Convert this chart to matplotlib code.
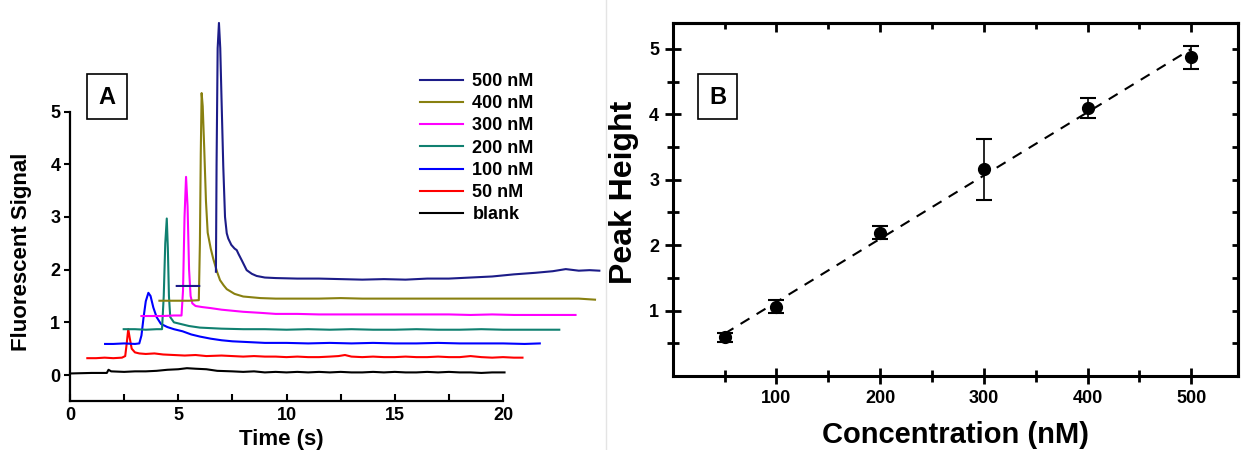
import numpy as np
import matplotlib.pyplot as plt
from matplotlib.ticker import MultipleLocator, FixedLocator
from matplotlib.patches import Rectangle
from matplotlib.lines import Line2D

plt.rcParams['font.family'] = ['Liberation Sans', 'DejaVu Sans']
plt.rcParams['font.weight'] = 'bold'

# ---- panel A: traces (time s, signal) ----
blank = np.array([(0.0, 0.03), (1.0, 0.04), (1.7, 0.04), (1.78, 0.10), (1.9, 0.07), (2.5, 0.06),
                  (3.0, 0.07), (3.5, 0.07), (4.0, 0.08), (4.5, 0.10), (5.0, 0.11), (5.4, 0.13),
                  (5.8, 0.12), (6.3, 0.11), (6.8, 0.08), (7.5, 0.07), (8.0, 0.06), (8.5, 0.07),
                  (9.0, 0.05), (9.5, 0.06), (10, 0.05), (10.5, 0.06), (11, 0.05), (11.5, 0.06),
                  (12, 0.05), (12.5, 0.06), (13, 0.05), (13.5, 0.05), (14, 0.06), (14.5, 0.05),
                  (15, 0.06), (15.5, 0.05), (16, 0.05), (16.5, 0.06), (17, 0.05), (17.5, 0.06),
                  (18, 0.05), (18.5, 0.05), (19, 0.04), (19.5, 0.05), (20.07, 0.05)])
nm50 = np.array([(0.80, 0.32), (1.2, 0.32), (1.6, 0.33), (2.0, 0.32), (2.4, 0.33), (2.55, 0.36),
                 (2.62, 0.6), (2.69, 0.87), (2.76, 0.7), (2.85, 0.5), (3.0, 0.43), (3.2, 0.41),
                 (3.5, 0.40), (3.9, 0.41), (4.3, 0.39), (4.8, 0.38), (5.3, 0.37), (5.8, 0.38),
                 (6.3, 0.36), (7, 0.37), (7.5, 0.36), (8, 0.35), (8.5, 0.36), (9, 0.35),
                 (9.5, 0.35), (10, 0.34), (10.5, 0.35), (11, 0.34), (11.5, 0.34), (12, 0.35),
                 (12.4, 0.36), (12.7, 0.38), (13.0, 0.35), (13.5, 0.34), (14, 0.35), (14.5, 0.34),
                 (15, 0.34), (15.5, 0.35), (16, 0.34), (16.5, 0.34), (17, 0.35), (17.5, 0.34),
                 (18, 0.34), (18.5, 0.36), (19, 0.34), (19.5, 0.33), (20, 0.34), (20.5, 0.33),
                 (20.9, 0.33)])
nm100 = np.array([(1.62, 0.59), (2.0, 0.59), (2.5, 0.60), (3.0, 0.59), (3.2, 0.60), (3.3, 0.75),
                  (3.4, 1.1), (3.5, 1.4), (3.62, 1.56), (3.72, 1.5), (3.85, 1.28), (4.0, 1.1),
                  (4.2, 0.97), (4.5, 0.91), (4.8, 0.87), (5.2, 0.83), (5.6, 0.77), (6.0, 0.73),
                  (6.5, 0.69), (7.0, 0.66), (7.5, 0.64), (8.0, 0.63), (8.5, 0.62), (9, 0.61),
                  (10, 0.61), (11, 0.60), (12, 0.61), (13, 0.60), (14, 0.61), (15, 0.60),
                  (16, 0.60), (17, 0.61), (18, 0.60), (19, 0.60), (20, 0.60), (21, 0.59),
                  (21.7, 0.60)])
nm200 = np.array([(2.48, 0.87), (3.0, 0.87), (3.5, 0.86), (4.0, 0.87), (4.25, 0.87), (4.33, 1.5),
                  (4.4, 2.5), (4.47, 2.97), (4.52, 2.4), (4.57, 1.5), (4.63, 1.1), (4.8, 1.0),
                  (5.1, 0.97), (5.5, 0.93), (6.0, 0.90), (6.5, 0.89), (7, 0.88), (8, 0.87),
                  (9, 0.87), (10, 0.86), (11, 0.87), (12, 0.86), (13, 0.87), (14, 0.86),
                  (15, 0.86), (16, 0.87), (17, 0.86), (18, 0.86), (19, 0.87), (20, 0.86),
                  (21, 0.86), (22, 0.86), (22.6, 0.86)])
nm300 = np.array([(3.30, 1.12), (3.8, 1.12), (4.3, 1.12), (4.8, 1.13), (5.15, 1.13), (5.22, 1.6),
                  (5.29, 3.0), (5.36, 3.76), (5.43, 3.2), (5.5, 2.0), (5.57, 1.5), (5.65, 1.36),
                  (5.8, 1.31), (6.1, 1.29), (6.5, 1.27), (7.0, 1.24), (7.5, 1.22), (8, 1.2),
                  (8.8, 1.18), (9.5, 1.16), (10.5, 1.16), (11.5, 1.15), (12.5, 1.15), (13.5, 1.15),
                  (14.5, 1.15), (15.5, 1.15), (16.5, 1.15), (17.5, 1.15), (18.5, 1.14), (19.5, 1.15),
                  (20.5, 1.14), (21.5, 1.14), (22.5, 1.14), (23.35, 1.14)])
nm400 = np.array([(4.13, 1.41), (4.6, 1.41), (5.0, 1.41), (5.5, 1.41), (5.95, 1.42), (6.0, 2.5),
                  (6.04, 4.2), (6.08, 5.35), (6.13, 5.1), (6.2, 4.3), (6.28, 3.3), (6.36, 2.7),
                  (6.5, 2.4), (6.62, 2.2), (6.8, 1.95), (6.93, 1.8), (7.1, 1.7), (7.24, 1.63),
                  (7.6, 1.54), (8.0, 1.49), (8.8, 1.46), (9.5, 1.45), (10.5, 1.45), (11.5, 1.45),
                  (12.5, 1.46), (13.5, 1.45), (14.5, 1.45), (15.5, 1.45), (16.5, 1.45), (17.5, 1.45),
                  (18.5, 1.45), (19.5, 1.45), (20.5, 1.45), (21.5, 1.45), (22.5, 1.45), (23.5, 1.45),
                  (24.25, 1.43)])
nm500 = np.array([(4.93, 1.69), (5.3, 1.69), (5.7, 1.69), (5.97, 1.69), (np.nan, np.nan),
                  (6.74, 1.96), (6.77, 4.0), (6.82, 6.2), (6.88, 6.68), (6.94, 6.2), (7.0, 5.22),
                  (7.08, 3.95), (7.16, 3.0), (7.24, 2.69), (7.31, 2.59), (7.45, 2.47), (7.6, 2.4),
                  (7.7, 2.37), (7.78, 2.3), (7.93, 2.18), (8.16, 1.99), (8.4, 1.92), (8.62, 1.88),
                  (9.0, 1.85), (9.5, 1.84), (10.5, 1.83), (11.5, 1.83), (12.5, 1.82), (13.5, 1.81),
                  (14.5, 1.82), (15.5, 1.81), (16.5, 1.83), (17.5, 1.83), (18.5, 1.85), (19.5, 1.87),
                  (20.5, 1.91), (21.5, 1.94), (22.3, 1.97), (22.9, 2.01), (23.5, 1.98), (24.0, 1.99),
                  (24.45, 1.98)])

traces = [blank, nm50, nm100, nm200, nm300, nm400, nm500]
labels = ['blank', '50 nM', '100 nM', '200 nM', '300 nM', '400 nM', '500 nM']
colors = ['black', '#ff0000', '#0000ff', '#108070', '#ff00ff', '#888010', '#1c1c88']

# ---- panel B: calibration ----
conc = np.array([50, 100, 200, 300, 400, 500])
peak = np.array([0.59, 1.06, 2.19, 3.16, 4.10, 4.87])
peak_err = np.array([0.07, 0.10, 0.10, 0.47, 0.15, 0.18])

fig = plt.figure(figsize=(12.41, 4.5), dpi=100)
W, H = 1241, 450

# panel A
axA = fig.add_axes([70 / W, 1 - 401.4 / H, 433 / W, 289.9 / H])
lines = []
for tr, lab, c in zip(traces, labels, colors):
    ln, = axA.plot(tr[:, 0], tr[:, 1], color=c, lw=1.5, label=lab, clip_on=False)
    lines.append(ln)
axA.set_xlim(0, 20)
axA.set_ylim(-0.5, 5)
axA.spines['top'].set_visible(False)
axA.spines['right'].set_visible(False)
for s in ['left', 'bottom']:
    axA.spines[s].set_linewidth(1.6)
axA.set_xticks([0, 5, 10, 15, 20])
axA.xaxis.set_minor_locator(MultipleLocator(2.5))
axA.set_yticks([0, 1, 2, 3, 4, 5])
axA.tick_params(axis='x', which='both', direction='in', length=5, width=1.5, pad=4, labelsize=13)
axA.tick_params(axis='y', which='both', direction='out', length=4, width=1.5, pad=3, labelsize=13)

axA.legend(lines[::-1], labels[::-1], loc='upper left', bbox_to_anchor=(420 / W, 1 - 73 / H),
           bbox_transform=fig.transFigure, frameon=False, fontsize=13, handlelength=2.4,
           handletextpad=0.5, labelspacing=0.29, borderpad=0, borderaxespad=0)

fig.text(22 / W, 1 - 252 / H, 'Fluorescent Signal', rotation=90, ha='center', va='center',
         fontsize=16, fontweight='bold')
fig.text(281 / W, 1 - 439 / H, 'Time (s)', ha='center', va='center', fontsize=16, fontweight='bold')

# panel B
axB = fig.add_axes([672.7 / W, 1 - 376 / H, 565.3 / W, 353.3 / H])
fit = np.polyfit(conc, peak, 1)
xfit = conc[[0, -1]]
axB.plot(xfit, np.polyval(fit, xfit), color='black', lw=1.5, dashes=(5, 4))
axB.errorbar(conc, peak, yerr=peak_err, fmt='o', color='black', ms=8.5, capsize=5.6,
             capthick=1.5, elinewidth=1.2, zorder=3)
axB.set_xlim(0, 545)
axB.set_ylim(0, 5.4)
axB.set_xticks([100, 200, 300, 400, 500])
axB.xaxis.set_minor_locator(FixedLocator([50, 150, 250, 350, 450]))
axB.set_yticks([1, 2, 3, 4, 5])
axB.yaxis.set_minor_locator(FixedLocator([0.5, 1.5, 2.5, 3.5, 4.5]))
for s in axB.spines.values():
    s.set_linewidth(2.2)
axB.tick_params(which='major', direction='inout', length=11.5, width=2, pad=4, labelsize=13)
axB.tick_params(which='minor', direction='inout', length=8, width=2)

top = axB.secondary_xaxis('top')
top.set_xticks([100, 200, 300, 400, 500])
top.xaxis.set_minor_locator(FixedLocator([50, 150, 250, 350, 450]))
top.tick_params(which='major', direction='in', length=6.5, width=2, labeltop=False)
top.tick_params(which='minor', direction='in', length=4, width=2)
top.spines['top'].set_linewidth(2.2)
right = axB.secondary_yaxis('right')
right.set_yticks([1, 2, 3, 4, 5])
right.yaxis.set_minor_locator(FixedLocator([0.5, 1.5, 2.5, 3.5, 4.5]))
right.tick_params(which='both', direction='in', length=4.5, width=2, labelright=False)
right.spines['right'].set_linewidth(2.2)

fig.text(624 / W, 1 - 192 / H, 'Peak Height', rotation=90, ha='center', va='center',
         fontsize=23, fontweight='bold')
fig.text(956 / W, 1 - 435 / H, 'Concentration (nM)', ha='center', va='center',
         fontsize=21, fontweight='bold')

# panel letters
for x0, x1, letter in [(87, 127, 'A'), (698, 737, 'B')]:
    fig.add_artist(Rectangle((x0 / W, 1 - 119 / H), (x1 - x0) / W, 45 / H,
                             transform=fig.transFigure, fill=False, lw=1.2, ec='black'))
    fig.text((x0 + x1) / 2 / W, 1 - 97 / H, letter, ha='center', va='center',
             fontsize=17, fontweight='bold')

# faint divider between the two panels
fig.add_artist(Line2D([606 / W, 606 / W], [0, 1], transform=fig.transFigure,
                      color='#e4e4e4', lw=1))

fig.savefig('out.png', dpi=100)
